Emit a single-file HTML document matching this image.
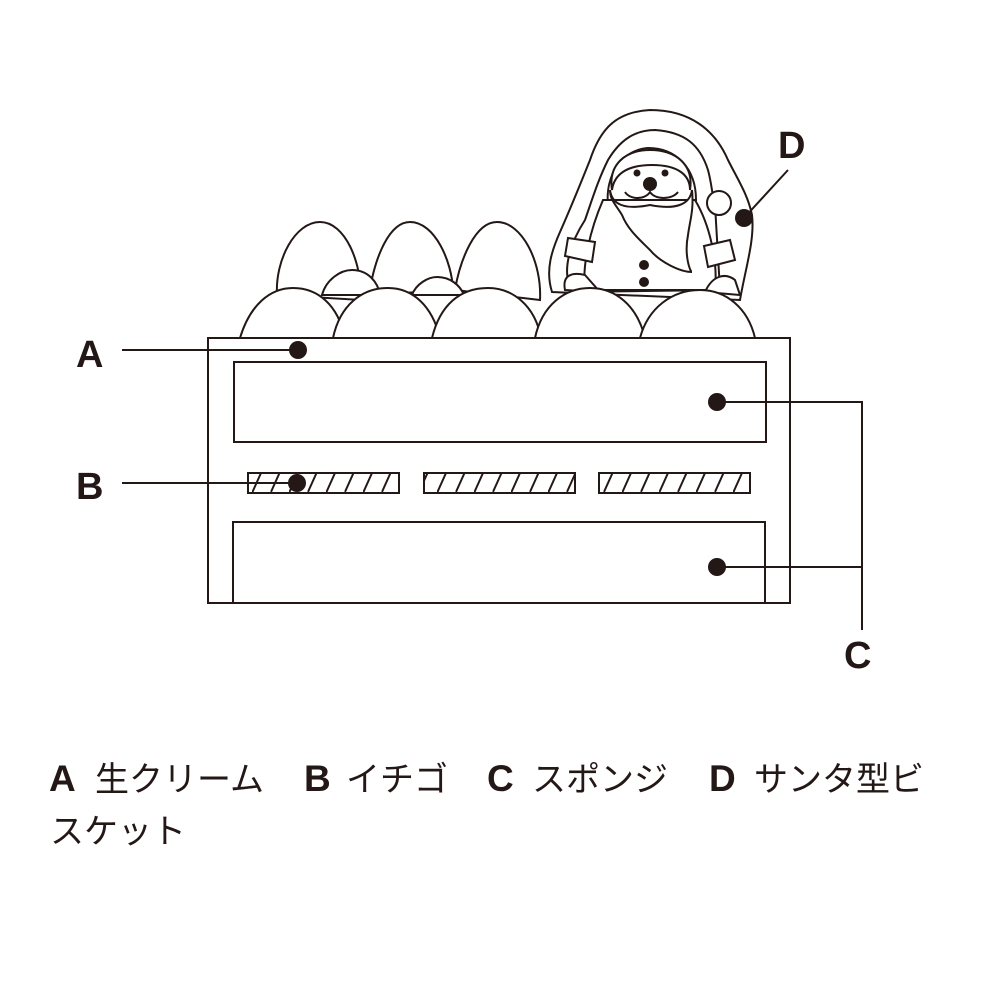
<!DOCTYPE html>
<html><head><meta charset="utf-8"><style>body{margin:0;background:#fff}svg{display:block}</style></head>
<body>
<svg width="1000" height="1000" viewBox="0 0 1000 1000" xmlns="http://www.w3.org/2000/svg">
<defs>
<pattern id="h" patternUnits="userSpaceOnUse" width="18.5" height="20" x="252" y="473">
<line x1="0" y1="20" x2="9" y2="0" stroke="#231815" stroke-width="2"/>
</pattern>
</defs>
<g fill="#fff" stroke="#231815" stroke-width="2">
<!-- santa hood -->
<path d="M552,292 C545,270 552,250 560,232 C572,205 580,185 590,160 C600,130 615,112 650,110 C690,110 715,130 728,160 C738,180 748,195 752,215 C755,240 745,270 740,300 Z"/>
<path d="M572,292 C560,270 572,240 585,220 C592,200 598,180 608,160 C620,140 635,130 655,130 C685,132 700,145 708,170 C712,185 712,195 715,205 L720,290 Z"/>
<path d="M608,205 C605,175 622,150 648,148 C676,148 696,168 696,200 Z"/>
<path d="M603,200 C590,230 582,265 585,290 L715,290 C718,262 710,225 695,200 Z"/>
<path d="M568,238 L595,242 L592,262 L565,256 Z"/>
<path d="M704,246 L730,240 L735,260 L708,267 Z"/>
<path d="M565,290 C562,275 572,272 585,275 L600,292 Z"/>
<path d="M705,292 C712,276 725,272 735,280 L740,295 Z"/>
<path d="M612,190 C608,165 625,150 650,150 C676,150 694,165 690,190 C690,175 678,165 652,165 C626,165 614,175 612,190 Z"/>
<path d="M610,190 C612,205 625,210 650,205 C675,210 690,205 692,190 C694,210 690,220 688,235 C684,255 690,272 692,272 C680,272 660,262 650,250 C640,240 628,230 622,215 C616,205 610,200 610,190 Z"/>
<path d="M625,192 C630,200 645,200 650,192 C655,200 672,200 678,192" fill="none"/>
<circle cx="719" cy="203" r="12"/>
<!-- tall strawberries -->
<path d="M277,295 C275,260 295,222 320,222 C345,222 362,262 361,300 Z"/>
<path d="M369,295 C375,255 390,222 410,222 C435,222 452,262 453,290 Z"/>
<path d="M455,290 C460,260 475,222 497,222 C522,222 542,262 540,300 Z"/>
<path d="M322,295 C326,280 340,270 352,270 C368,270 378,282 380,295 Z"/>
<path d="M412,295 C416,284 428,277 437,277 C450,277 460,285 464,295 Z"/>
<path d="M240,338 C250,305 270,288 293,288 C318,288 338,305 345,338 Z"/>
<path d="M333,338 C340,305 362,288 388,288 C412,288 432,305 440,338 Z"/>
<path d="M432,338 C440,305 460,288 488,288 C512,288 535,305 541,338 Z"/>
<path d="M535,338 C542,305 565,288 590,288 C615,288 637,305 645,338 Z"/>
<path d="M640,338 C648,308 672,290 700,290 C726,290 748,308 755,338 Z"/>
</g>
<g fill="#231815">
<circle cx="637" cy="173" r="3.5"/><circle cx="665" cy="173" r="3.5"/>
<circle cx="650" cy="184" r="7"/>
<circle cx="644" cy="265" r="5"/><circle cx="644" cy="282" r="5"/>
</g>
<g fill="none" stroke="#231815" stroke-width="2">
<rect x="208" y="338" width="582" height="265"/>
<rect x="234" y="362" width="532" height="80"/>
<path d="M233,603 V522 H765 V603"/>
<rect x="248" y="473" width="151" height="20" fill="url(#h)"/>
<rect x="424" y="473" width="151" height="20" fill="url(#h)"/>
<rect x="599" y="473" width="151" height="20" fill="url(#h)"/>
<path d="M122,350 H298 M122,483 H297 M717,402 H862 V630 M862,567 H717 M788,170 L744,218"/>
</g>
<g fill="#231815">
<circle cx="298" cy="350" r="9"/><circle cx="297" cy="483" r="9"/>
<circle cx="717" cy="402" r="9"/><circle cx="717" cy="567" r="9"/>
<circle cx="744" cy="218" r="9"/>
</g>
<g font-family="'Liberation Sans',sans-serif" font-weight="bold" font-size="38" fill="#231815">
<text x="76" y="367">A</text>
<text x="76" y="499">B</text>
<text x="844" y="668">C</text>
<text x="778" y="158">D</text>
</g>
<g font-family="'Liberation Sans','Noto Sans CJK JP',sans-serif" font-size="34" fill="#231815">
<text x="49" y="791" font-weight="bold" font-size="37">A</text>
<text x="95" y="791">生クリーム</text>
<text x="304" y="791" font-weight="bold" font-size="37">B</text>
<text x="346" y="791">イチゴ</text>
<text x="487" y="791" font-weight="bold" font-size="37">C</text>
<text x="532" y="791">スポンジ</text>
<text x="709" y="791" font-weight="bold" font-size="37">D</text>
<text x="754" y="791">サンタ型ビ</text>
<text x="50" y="843">スケット</text>
</g>
</svg>
</body></html>
